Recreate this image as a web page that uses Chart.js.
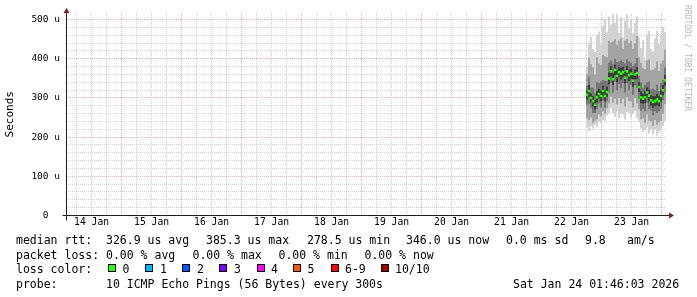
<!DOCTYPE html>
<html>
<head>
<meta charset="utf-8">
<script src="https://cdn.jsdelivr.net/npm/chart.js@4.4.1/dist/chart.umd.min.js"></script>
<style>
  body { margin:0; background:#fff; }
  #wrap { position:relative; width:697px; height:297px; overflow:hidden; }
  canvas { position:absolute; left:0; top:0; }
  .t { position:absolute; font-family:"DejaVu Sans Mono", monospace; font-size:11.5px; line-height:11.5px; white-space:pre; color:#000; }
  .sq { position:absolute; top:264px; width:6px; height:6px; border:1px solid #000; }
  #wm { position:absolute; left:691px; top:5px; font-family:"DejaVu Sans Mono", monospace; font-size:8px; line-height:8px;
        color:#b8b8b8; white-space:pre; transform-origin:0 0; transform:rotate(90deg); }
</style>
</head>
<body>
<div id="wrap">
  <canvas id="c" width="697" height="297"></canvas>
  <div id="wm">RRDTOOL / TOBI OETIKER</div>

  <div class="t" style="left:16px;top:235px">median rtt:</div>
  <div class="t" style="left:106px;top:235px">326.9 us avg</div>
  <div class="t" style="left:206px;top:235px">385.3 us max</div>
  <div class="t" style="left:307px;top:235px">278.5 us min</div>
  <div class="t" style="left:406px;top:235px">346.0 us now</div>
  <div class="t" style="left:506px;top:235px">0.0 ms sd</div>
  <div class="t" style="left:585px;top:235px">9.8</div>
  <div class="t" style="left:627px;top:235px">am/s</div>

  <div class="t" style="left:16px;top:249.5px">packet loss:</div>
  <div class="t" style="left:106px;top:249.5px">0.00 % avg</div>
  <div class="t" style="left:192.5px;top:249.5px">0.00 % max</div>
  <div class="t" style="left:278.5px;top:249.5px">0.00 % min</div>
  <div class="t" style="left:364.5px;top:249.5px">0.00 % now</div>

  <div class="t" style="left:16px;top:264px">loss color:</div>
  <div id="losskey"></div>

  <div class="t" style="left:16px;top:278.5px">probe:</div>
  <div class="t" style="left:106px;top:278.5px">10 ICMP Echo Pings (56 Bytes) every 300s</div>
  <div class="t" style="left:513px;top:278.5px">Sat Jan 24 01:46:03 2026</div>
</div>

<script>
// hours counted from 14 Jan 00:00, graph covers 14 Jan 01:46 .. 24 Jan 01:46
var startHour = 1.77;
var endHour = 241.77;
var firstStep = 210.17;
var stepHours = 0.8;

var dayLabels = ['14 Jan', '15 Jan', '16 Jan', '17 Jan', '18 Jan', '19 Jan', '20 Jan', '21 Jan', '22 Jan', '23 Jan'];
var yLabels = ['0  ', '100 u', '200 u', '300 u', '400 u', '500 u'];

// loss legend
var lossNames = ['0', '1', '2', '3', '4', '5', '6-9', '10/10'];
var lossColors = ['#26ff00', '#00b8ff', '#0059ff', '#7e00ff', '#ff00ff', '#ff5500', '#ff0000', '#a10000'];
var lossBoxX = [108, 145, 182, 219, 257, 293, 331, 381];
var lossTextX = [122.5, 160, 197, 234, 271, 307.5, 345, 395];

// rtt values in microseconds, one per step
var median = [308,318,300,292,283,302,310,305,318,305,315,350,368,348,372,356,366,362,366,352,
              368,358,362,344,360,364,328,302,298,302,314,306,294,290,292,296,292,305,320,345];
var pMin = [225,215,228,222,232,226,240,236,244,242,255,262,274,262,252,266,248,262,258,246,
            264,262,250,260,266,248,238,222,214,218,226,210,220,206,218,204,214,222,228,242];
var pMax = [380,442,455,425,418,462,470,436,485,502,468,508,488,514,492,512,466,506,455,498,
            514,478,502,465,492,508,455,428,448,398,462,472,425,418,452,472,438,458,482,468];
var lo2 = [248,244,250,236,242,246,258,252,266,260,274,286,304,288,298,284,300,286,298,278,
           302,292,292,276,300,286,272,246,248,236,258,242,240,228,244,232,238,242,260,284];
var hi2 = [362,402,386,378,360,404,388,384,410,406,404,446,442,444,450,436,446,452,426,446,
           450,440,446,426,440,458,404,390,376,374,396,398,370,372,376,394,368,388,396,424];
var lo3 = [282,284,276,262,262,272,286,276,294,276,292,314,338,314,342,320,336,326,338,314,
           338,320,334,308,332,326,298,268,272,266,288,272,268,256,266,262,266,272,294,312];
var hi3 = [332,354,326,326,314,340,338,342,346,344,344,390,396,386,400,392,394,396,392,388,
           398,394,390,382,388,402,356,340,326,334,340,342,322,324,320,334,318,338,346,378];
var lo4 = [297,303,289,279,271,289,298,292,306,291,303,335,355,333,359,341,353,347,353,337,
           355,343,349,329,347,349,315,287,285,287,301,291,281,275,279,281,279,291,307,331];
var hi4 = [319,333,311,305,295,317,323,319,331,319,329,365,381,363,385,371,379,377,379,367,
           381,373,375,359,373,379,341,317,311,317,327,321,307,305,305,311,305,319,333,359];

var times = [];
for (var i = 0; i < median.length; i++) times.push(firstStep + i * stepHours);

var minorGrid = 'rgba(143,143,143,0.4)';
var majorGrid = 'rgba(222,79,79,0.45)';
var monoFont = '"DejaVu Sans Mono", monospace';

// loss color key
var key = document.getElementById('losskey');
for (var k = 0; k < lossNames.length; k++) {
  var sq = document.createElement('div');
  sq.className = 'sq';
  sq.style.left = lossBoxX[k] + 'px';
  sq.style.background = lossColors[k];
  key.appendChild(sq);
  var lb = document.createElement('div');
  lb.className = 't';
  lb.style.left = lossTextX[k] + 'px';
  lb.style.top = '264px';
  lb.textContent = lossNames[k];
  key.appendChild(lb);
}

function band(lo, hi) {
  return times.map(function (t, i) { return { x: t, y: [lo[i], hi[i]] }; });
}

function smoke(label, lo, hi, color) {
  return {
    type: 'bar', label: label, data: band(lo, hi),
    backgroundColor: color, borderWidth: 0, barThickness: 2,
    grouped: false, inflateAmount: 0
  };
}

var axisPlugin = {
  id: 'axes',
  afterDraw: function (chart) {
    var a = chart.chartArea, c = chart.ctx;
    var x0 = Math.round(a.left) + 0.5, y0 = a.bottom;
    c.save();
    c.strokeStyle = '#1f1f1f';
    c.lineWidth = 1;
    c.beginPath();
    c.moveTo(x0 - 4, y0); c.lineTo(a.right + 4, y0);
    c.moveTo(x0, a.top - 2); c.lineTo(x0, y0 + 5);
    c.stroke();
    c.fillStyle = '#801f1f';
    c.beginPath();
    c.moveTo(x0 - 3, a.top); c.lineTo(x0 + 3, a.top); c.lineTo(x0, a.top - 5); c.closePath();
    c.moveTo(a.right + 3, y0 - 3); c.lineTo(a.right + 3, y0 + 3); c.lineTo(a.right + 8, y0); c.closePath();
    c.fill();
    c.restore();
  }
};

new Chart('c', {
  type: 'bar',
  data: {
    datasets: [
      {
        type: 'line', label: 'median', showLine: false,
        data: times.map(function (t, i) { return { x: t, y: median[i] }; }),
        pointStyle: 'rect', pointRadius: 1.8, pointBorderWidth: 0,
        pointBackgroundColor: lossColors[0], pointBorderColor: lossColors[0]
      },
      smoke('p4', lo4, hi4, '#3c3c3c'),
      smoke('p3', lo3, hi3, '#767676'),
      smoke('p2', lo2, hi2, '#a4a4a4'),
      smoke('p1', pMin, pMax, '#d2d2d2')
    ]
  },
  options: {
    responsive: false,
    animation: false,
    devicePixelRatio: 1,
    layout: { padding: { left: 0, top: 13, right: 31, bottom: 60 } },
    plugins: { legend: { display: false }, tooltip: { enabled: false } },
    scales: {
      x: {
        type: 'linear', min: startHour, max: endHour, offset: false,
        grid: {
          offset: false, drawTicks: false, lineWidth: 1,
          color: function (ctx) { return ctx.tick && ctx.tick.value % 24 === 0 ? majorGrid : minorGrid; }
        },
        border: { display: false, dash: [1, 1] },
        ticks: {
          autoSkip: false, maxRotation: 0, padding: 1, color: '#000',
          font: { family: monoFont, size: 9.7 },
          callback: function (v) { return v % 24 === 12 ? dayLabels[(v - 12) / 24] : ''; }
        },
        afterBuildTicks: function (s) {
          s.ticks = [];
          for (var h = 6; h <= 240; h += 6) s.ticks.push({ value: h });
        },
        afterFit: function (s) { s.height = 21.5; }
      },
      y: {
        min: 0, max: 517,
        grid: {
          drawTicks: false, lineWidth: 1,
          color: function (ctx) { return ctx.tick && ctx.tick.value % 100 === 0 ? majorGrid : minorGrid; }
        },
        border: { display: false, dash: [1, 1] },
        ticks: {
          autoSkip: false, padding: 6, color: '#000',
          font: { family: monoFont, size: 9.5 },
          callback: function (v) { return v % 100 === 0 ? yLabels[v / 100] : ''; }
        },
        title: {
          display: true, text: 'Seconds', color: '#000',
          font: { family: monoFont, size: 11 }, padding: { top: 4, bottom: 0 }
        },
        afterBuildTicks: function (s) {
          s.ticks = [];
          for (var v = 0; v <= 500; v += 20) s.ticks.push({ value: v });
        },
        afterFit: function (s) { s.width = 66; }
      }
    }
  },
  plugins: [axisPlugin]
});
</script>
</body>
</html>
